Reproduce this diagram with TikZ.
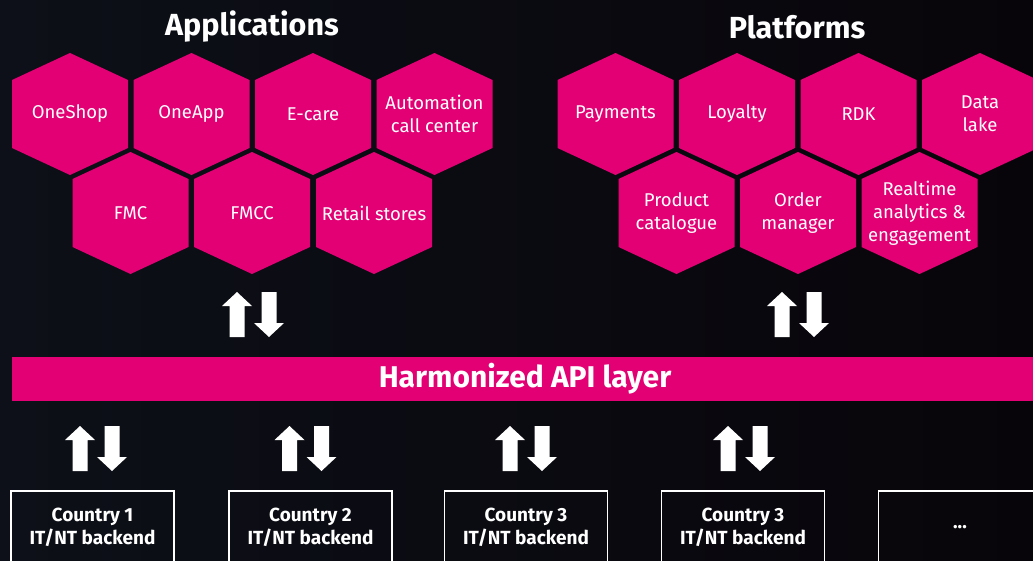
\documentclass[tikz,border=0pt]{standalone}
\usepackage{fontspec}
\setmainfont{Fira Sans}
\definecolor{tmag}{HTML}{E20074}
\definecolor{bgl}{RGB}{13,16,24}
\definecolor{bgr}{RGB}{8,5,10}
\newcommand\hexa[4]{%
  \fill[tmag] (#2,#3) ++(0,-61) -- ++(58,27) -- ++(0,68) -- ++(-58,27) -- ++(-58,-27) -- ++(0,-68) -- cycle;
  \node[hextext] (#1) at (#2,#3) {#4};}
\newcommand\myuparr[3]{%
  \fill[white] (#1,#2) -- ({#1+15},{#2+14}) -- ({#1+7.5},{#2+14}) -- ({#1+7.5},#3) -- ({#1-7.5},#3) -- ({#1-7.5},{#2+14}) -- ({#1-15},{#2+14}) -- cycle;}
\newcommand\mydownarr[3]{%
  \fill[white] (#1,#3) -- ({#1+15},{#3-14}) -- ({#1+7.5},{#3-14}) -- ({#1+7.5},#2) -- ({#1-7.5},#2) -- ({#1-7.5},{#3-14}) -- ({#1-15},{#3-14}) -- cycle;}
\newcommand\pairarr[3]{\myuparr{#1-16}{#2}{#3}\mydownarr{#1+16}{#2}{#3}}
\tikzset{
  hextext/.style={text=white, align=center, font=\fontsize{18.5}{23}\selectfont, inner sep=0pt},
  title/.style={text=white, font=\bfseries\fontsize{30.5}{34}\selectfont},
  backend/.style={draw=white, line width=1.5pt, text=white, align=center, minimum width=163pt, minimum height=72pt, font=\bfseries\fontsize{19}{23}\selectfont, inner sep=0pt}
}
\begin{document}
\begin{tikzpicture}[x=1pt,y=-1pt]
\useasboundingbox (0,0) rectangle (1033,560);
\clip (0,0) rectangle (1033,560);
\shade[left color=bgl, right color=bgr] (0,0) rectangle (1033,560);
\node[title] (apps) at (252,27) {Applications};
\node[title] (plat) at (797,27) {Platforms};
% Applications
\hexa{oneshop}{70}{114}{OneShop}
\hexa{oneapp}{191.5}{114}{OneApp}
\hexa{ecare}{313}{114}{E-care}
\hexa{auto}{434.5}{114}{Automation\\call center}
\hexa{fmc}{130.5}{213}{FMC}
\hexa{fmcc}{252}{213}{FMCC}
\hexa{retail}{374}{213}{Retail stores}
% Platforms
\hexa{pay}{615.5}{114}{Payments}
\hexa{loy}{737}{114}{Loyalty}
\hexa{rdk}{858.5}{114}{RDK}
\hexa{lake}{980}{114}{Data\\lake}
\hexa{prod}{676.5}{213}{Product\\catalogue}
\hexa{order}{798}{213}{Order\\manager}
\hexa{rt}{919.5}{213}{Realtime\\analytics \&\\engagement}
% arrows
\pairarr{253}{292}{337}
\pairarr{798}{292}{337}
% API layer
\fill[tmag] (12,357) rectangle (1040,401);
\node[text=white, font=\bfseries\fontsize{30}{34}\selectfont] (api) at (525,379) {Harmonized API layer};
% lower arrows
\pairarr{96}{426}{471}
\pairarr{305.5}{426}{471}
\pairarr{526}{426}{471}
\pairarr{744}{426}{471}
% backends
\node[backend] (c1) at (92.5,527) {Country 1\\IT/NT backend};
\node[backend] (c2) at (310.5,527) {Country 2\\IT/NT backend};
\node[backend] (c3) at (526,527) {Country 3\\IT/NT backend};
\node[backend] (c4) at (743,527) {Country 3\\IT/NT backend};
\node[backend] (c5) at (960,527) {...};
\end{tikzpicture}
\end{document}
